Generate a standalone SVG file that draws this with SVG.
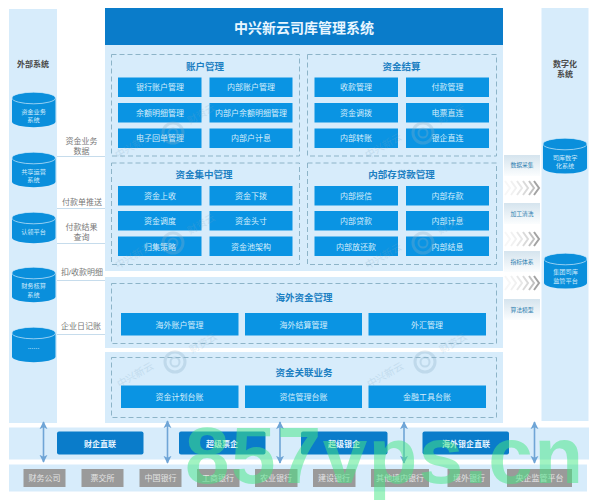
<svg xmlns="http://www.w3.org/2000/svg" width="598" height="500" viewBox="0 0 598 500">
<style>
text{font-family:"Liberation Sans","Noto Sans CJK SC",sans-serif;text-anchor:middle}
.panel{fill:#d7ecfb}
.dash{fill:none;stroke:#8db4c8;stroke-width:1;stroke-dasharray:5 3}
.btn{fill:#0a94e3}
.btnt{fill:#d5eefc;font-size:8px}
.head{fill:#1c7fc2;font-size:9.5px;font-weight:bold}
.side{fill:#4a4a4a;font-size:8px;font-weight:bold}
.lab{fill:#777;font-size:8px}
.link{stroke:#c6dcec;stroke-width:1;fill:none}
.cyl{fill:#0a8fdc}
.cylt{fill:#cfeafb;font-size:6.2px}
.cyle{fill:#0a8fdc;stroke:#cfe9fa;stroke-width:.7}
.conn{fill:#0a7cca}
.connt{fill:#e6f5ff;font-size:8px;font-weight:bold}
.bank{fill:#9a9a9a}
.bankt{fill:#e4e4e4;font-size:8px}
.tag{fill:url(#tg)}
.tagt{fill:#2f7fb0;font-size:5.8px}
.arr{stroke:#6fa5d6;stroke-width:1.6;fill:none;marker-start:url(#ah);marker-end:url(#ah)}
.wm{fill:#7fa9c4;font-size:10px;opacity:.75}
</style>
<defs>
<marker id="ah" viewBox="0 0 10 10" refX="9" refY="5" markerWidth="5" markerHeight="6" orient="auto-start-reverse"><path d="M0 0L10 5L0 10L2.500 5Z" fill="#6fa5d6"/></marker>
<linearGradient id="tg" x1="0" y1="0" x2="0" y2="1"><stop offset="0" stop-color="#d5e4ee"/><stop offset="1" stop-color="#fbfdfe"/></linearGradient>
<g id="chev" fill="none" stroke-width="2">
<path d="M0 0l5 7l-5 7" stroke="#f7f7f7"/><path d="M6 0l5 7l-5 7" stroke="#f1f1f1"/><path d="M12 0l5 7l-5 7" stroke="#e8e8e8"/><path d="M18 0l5 7l-5 7" stroke="#dadada"/><path d="M24 0l5 7l-5 7" stroke="#c2c2c2"/><path d="M29 0l5 7l-5 7" stroke="#a3a3a3"/>
</g>
<g id="mark" opacity=".3">
<circle r="10" fill="none" stroke="#8ab0c8" stroke-width="3"/><circle r="4.500" fill="none" stroke="#8ab0c8" stroke-width="2"/>
<text class="wm" transform="translate(-38 16) rotate(-30)">中兴新云</text>
<text class="wm" transform="translate(30 -16) rotate(-30)">财资云</text>
</g>
</defs>
<rect width="598" height="500" fill="#fff"/>

<g id="backgrounds">
<rect class="panel" x="9" y="9" width="48" height="414"/>
<rect class="panel" x="541.500" y="8" width="47" height="413"/>
<rect class="panel" x="105" y="45" width="398" height="226"/>
<rect class="panel" x="105" y="277" width="398" height="71"/>
<rect class="panel" x="105" y="352" width="398" height="71"/>
<rect class="panel" x="9" y="427.500" width="580" height="32"/>
<rect class="panel" x="9" y="464.500" width="578" height="27"/>
</g>

<g id="title">
<rect x="105" y="8" width="398" height="37" fill="#0a7cca"/>
<text x="304" y="32.500" fill="#e8f6ff" font-size="14" font-weight="bold">中兴新云司库管理系统</text>
</g>

<g id="connectors">
<path class="link" d="M57 156.500H105M57 208.500H105M57 243.500H105M57 280.500H105M57 334.500H105"/>
<path class="arr" d="M43.500 422V462"/>
<path class="arr" d="M167.500 421V463"/>
<path class="arr" d="M280 422V463"/>
<path class="arr" d="M404 422V463"/>
<path class="arr" d="M534.500 422V463"/>
</g>

<g id="connector-labels">
<text class="lab" x="81.500" y="144">资金业务</text><text class="lab" x="81.500" y="154">数据</text>
<text class="lab" x="82" y="205">付款单推送</text>
<text class="lab" x="81.500" y="230">付款结果</text><text class="lab" x="81.500" y="240">查询</text>
<text class="lab" x="82" y="275">扣/收款明细</text>
<text class="lab" x="81" y="329">企业日记账</text>
</g>

<g id="external-systems">
<text class="side" x="33" y="67">外部系统</text>
<g id="ext1"><path class="cyl" d="M12 98V122a21.800 5.500 0 0 0 43.500 0V98Z"/><ellipse class="cyle" cx="33.700" cy="98" rx="21.800" ry="5.800"/><text class="cylt" x="33.500" y="114">资金业务</text><text class="cylt" x="33.500" y="122">系统</text></g>
<g id="ext2"><path class="cyl" d="M12 158V182a21.800 5.500 0 0 0 43.500 0V158Z"/><ellipse class="cyle" cx="33.700" cy="158" rx="21.800" ry="5.800"/><text class="cylt" x="33.500" y="174">共享运营</text><text class="cylt" x="33.500" y="182">系统</text></g>
<g id="ext3"><path class="cyl" d="M12 218V238a21.800 5.500 0 0 0 43.500 0V218Z"/><ellipse class="cyle" cx="33.700" cy="218" rx="21.800" ry="5.800"/><text class="cylt" x="33.500" y="233.500">认领平台</text></g>
<g id="ext4"><path class="cyl" d="M12 273V297a21.800 5.500 0 0 0 43.500 0V273Z"/><ellipse class="cyle" cx="33.700" cy="273" rx="21.800" ry="5.800"/><text class="cylt" x="33.500" y="288">财务核算</text><text class="cylt" x="33.500" y="297">系统</text></g>
<g id="ext5"><path class="cyl" d="M12 333V357a21.800 5.500 0 0 0 43.500 0V333Z"/><ellipse class="cyle" cx="33.700" cy="333" rx="21.800" ry="5.800"/><text x="33.500" y="349" fill="#e6f5ff" font-size="7">......</text></g>
</g>

<g id="digital-systems">
<text class="side" x="565" y="67">数字化</text><text class="side" x="565" y="77">系统</text>
<g id="dig1"><path class="cyl" d="M543 144V168a22 5.500 0 0 0 44 0V144Z"/><ellipse class="cyle" cx="565" cy="144" rx="22" ry="5.800"/><text class="cylt" x="565" y="160">司库数字</text><text class="cylt" x="565" y="168">化系统</text></g>
<g id="dig2"><path class="cyl" d="M544 259V283a21.500 5.500 0 0 0 43 0V259Z"/><ellipse class="cyle" cx="565.500" cy="259" rx="21.500" ry="5.800"/><text class="cylt" x="565.500" y="274">集团司库</text><text class="cylt" x="565.500" y="283">监管平台</text></g>
</g>

<g id="pipeline">
<g id="tag1"><rect class="tag" x="504" y="155" width="36" height="21"/><text class="tagt" x="522" y="167">数据采集</text></g>
<use href="#chev" x="505" y="181"/>
<g id="tag2"><rect class="tag" x="504" y="203" width="36" height="21"/><text class="tagt" x="522" y="216">加工清洗</text></g>
<use href="#chev" x="505" y="232"/>
<g id="tag3"><rect class="tag" x="504" y="251" width="36" height="21"/><text class="tagt" x="522" y="264">指标体系</text></g>
<use href="#chev" x="505" y="276"/>
<g id="tag4"><rect class="tag" x="504" y="299" width="36" height="21"/><text class="tagt" x="522" y="312">算法模型</text></g>
</g>

<g id="account">
<rect class="dash" x="111.500" y="54.500" width="188" height="101.500"/>
<text class="head" x="205" y="70">账户管理</text>
<rect class="btn" x="118" y="77.500" width="83.500" height="19.500"/><text class="btnt" x="160" y="90">银行账户管理</text>
<rect class="btn" x="209.500" y="77.500" width="83" height="19.500"/><text class="btnt" x="251" y="90">内部账户管理</text>
<rect class="btn" x="118" y="103" width="83.500" height="19.500"/><text class="btnt" x="160" y="115.500">余额明细管理</text>
<rect class="btn" x="209.500" y="103" width="83" height="19.500"/><text class="btnt" x="251" y="115.500">内部户余额明细管理</text>
<rect class="btn" x="118" y="128.500" width="83.500" height="19.500"/><text class="btnt" x="160" y="141">电子回单管理</text>
<rect class="btn" x="209.500" y="128.500" width="83" height="19.500"/><text class="btnt" x="251" y="141">内部户计息</text>
</g>

<g id="settlement">
<rect class="dash" x="307.500" y="54.500" width="189" height="101.500"/>
<text class="head" x="401.500" y="70">资金结算</text>
<rect class="btn" x="314.500" y="77.500" width="83.500" height="19.500"/><text class="btnt" x="356" y="90">收款管理</text>
<rect class="btn" x="406" y="77.500" width="83" height="19.500"/><text class="btnt" x="447.500" y="90">付款管理</text>
<rect class="btn" x="314.500" y="103" width="83.500" height="19.500"/><text class="btnt" x="356" y="115.500">资金调拨</text>
<rect class="btn" x="406" y="103" width="83" height="19.500"/><text class="btnt" x="447.500" y="115.500">电票直连</text>
<rect class="btn" x="314.500" y="128.500" width="83.500" height="19.500"/><text class="btnt" x="356" y="141">内部转账</text>
<rect class="btn" x="406" y="128.500" width="83" height="19.500"/><text class="btnt" x="447.500" y="141">银企直连</text>
</g>

<g id="concentration">
<rect class="dash" x="111.500" y="163" width="188" height="101.500"/>
<text class="head" x="204" y="178">资金集中管理</text>
<rect class="btn" x="118" y="186" width="83.500" height="19.500"/><text class="btnt" x="160" y="198.500">资金上收</text>
<rect class="btn" x="209.500" y="186" width="83" height="19.500"/><text class="btnt" x="251" y="198.500">资金下拨</text>
<rect class="btn" x="118" y="211" width="83.500" height="19.500"/><text class="btnt" x="160" y="224">资金调度</text>
<rect class="btn" x="209.500" y="211" width="83" height="19.500"/><text class="btnt" x="251" y="224">资金头寸</text>
<rect class="btn" x="118" y="236.500" width="83.500" height="19.500"/><text class="btnt" x="160" y="249.500">归集策略</text>
<rect class="btn" x="209.500" y="236.500" width="83" height="19.500"/><text class="btnt" x="251" y="249.500">资金池架构</text>
</g>

<g id="deposit-loan">
<rect class="dash" x="307.500" y="163" width="189" height="101.500"/>
<text class="head" x="401.500" y="178">内部存贷款管理</text>
<rect class="btn" x="314.500" y="186" width="83.500" height="19.500"/><text class="btnt" x="356" y="198.500">内部授信</text>
<rect class="btn" x="406" y="186" width="83" height="19.500"/><text class="btnt" x="447.500" y="198.500">内部存款</text>
<rect class="btn" x="314.500" y="211" width="83.500" height="19.500"/><text class="btnt" x="356" y="224">内部贷款</text>
<rect class="btn" x="406" y="211" width="83" height="19.500"/><text class="btnt" x="447.500" y="224">内部计息</text>
<rect class="btn" x="314.500" y="236.500" width="83.500" height="19.500"/><text class="btnt" x="356" y="249.500">内部放还款</text>
<rect class="btn" x="406" y="236.500" width="83" height="19.500"/><text class="btnt" x="447.500" y="249.500">内部结息</text>
</g>

<g id="overseas">
<rect class="dash" x="111.500" y="283.500" width="385" height="60"/>
<text class="head" x="304" y="301">海外资金管理</text>
<rect class="btn" x="121" y="313" width="117.500" height="22.500"/><text class="btnt" x="179.500" y="327.500">海外账户管理</text>
<rect class="btn" x="245" y="313" width="117" height="22.500"/><text class="btnt" x="303.500" y="327.500">海外结算管理</text>
<rect class="btn" x="368.500" y="313" width="117.500" height="22.500"/><text class="btnt" x="427" y="327.500">外汇管理</text>
</g>

<g id="related">
<rect class="dash" x="111.500" y="357.500" width="385" height="60"/>
<text class="head" x="304" y="376">资金关联业务</text>
<rect class="btn" x="121" y="385.500" width="117.500" height="22.500"/><text class="btnt" x="179.500" y="399.500">资金计划台账</text>
<rect class="btn" x="245" y="385.500" width="117" height="22.500"/><text class="btnt" x="303.500" y="399.500">资信管理台账</text>
<rect class="btn" x="368.500" y="385.500" width="117.500" height="22.500"/><text class="btnt" x="427" y="399.500">金融工具台账</text>
</g>

<g id="direct-links">
<g id="c1"><rect class="conn" x="57" y="431.500" width="86.500" height="23" rx="2"/><text class="connt" x="100" y="446.500">财企直联</text></g>
<g id="c2"><rect class="conn" x="179" y="431.500" width="86.500" height="23" rx="2"/><text class="connt" x="222" y="446.500">超级票企</text></g>
<g id="c3"><rect class="conn" x="301" y="431.500" width="86.500" height="23" rx="2"/><text class="connt" x="344" y="446.500">超级银企</text></g>
<g id="c4"><rect class="conn" x="422.500" y="431.500" width="86.500" height="23" rx="2"/><text class="connt" x="466" y="446.500">海外银企直联</text></g>
</g>

<g id="banks">
<g id="b1"><rect class="bank" x="23.500" y="469" width="42" height="18"/><text class="bankt" x="44.500" y="481">财务公司</text></g>
<g id="b2"><rect class="bank" x="81.500" y="469" width="42" height="18"/><text class="bankt" x="102.500" y="481">票交所</text></g>
<g id="b3"><rect class="bank" x="139.500" y="469" width="42" height="18"/><text class="bankt" x="160.500" y="481">中国银行</text></g>
<g id="b4"><rect class="bank" x="197" y="469" width="42.500" height="18"/><text class="bankt" x="218" y="481">工商银行</text></g>
<g id="b5"><rect class="bank" x="255" y="469" width="42.500" height="18"/><text class="bankt" x="276" y="481">农业银行</text></g>
<g id="b6"><rect class="bank" x="313" y="469" width="42.500" height="18"/><text class="bankt" x="334" y="481">建设银行</text></g>
<g id="b7"><rect class="bank" x="371" y="469" width="58" height="18"/><text class="bankt" x="400" y="481">其他境内银行</text></g>
<g id="b8"><rect class="bank" x="447.500" y="469" width="42.500" height="18"/><text class="bankt" x="469" y="481">境外银行</text></g>
<g id="b9"><rect class="bank" x="507" y="469" width="65" height="18"/><text class="bankt" x="539.500" y="481">央企监管平台</text></g>
</g>

<g id="watermarks">
<use href="#mark" x="173" y="133"/><use href="#mark" x="423" y="133"/>
<use href="#mark" x="173" y="243"/><use href="#mark" x="423" y="243"/>
<use href="#mark" x="175" y="362"/><use href="#mark" x="425" y="362"/>
<text x="384" y="483" font-size="80" font-weight="bold" fill="#46e884" opacity=".5" textLength="398" style="font-family:'Liberation Sans',sans-serif">857vps.cn</text>
</g>
</svg>
